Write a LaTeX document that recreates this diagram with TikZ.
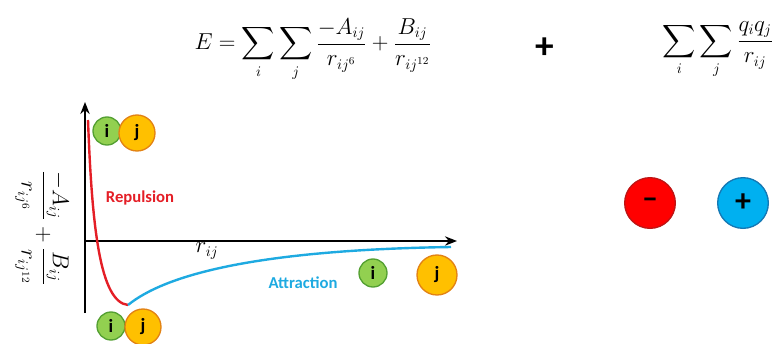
\documentclass[tikz,border=0pt]{standalone}
\usepackage{amsmath}
\usepackage{fontspec}
\newfontfamily\calfont{Carlito}
\usetikzlibrary{arrows.meta}

\definecolor{igreen}{RGB}{146,208,80}
\definecolor{igreenline}{RGB}{84,160,50}
\definecolor{jorange}{RGB}{255,192,0}
\definecolor{jorangeline}{RGB}{226,130,20}
\definecolor{repred}{RGB}{228,30,38}
\definecolor{attblue}{RGB}{30,170,225}
\definecolor{negred}{RGB}{255,0,0}
\definecolor{negredline}{RGB}{190,20,20}
\definecolor{posblue}{RGB}{0,176,240}
\definecolor{posblueline}{RGB}{20,120,180}

\tikzset{every picture/.style={line width=0.75pt}}
\tikzset{
  atom/.style={circle, draw, line width=1pt, inner sep=0pt, font=\calfont\bfseries\fontsize{14}{16}\selectfont},
  iatom/.style={atom, fill=igreen, draw=igreenline, minimum size=21pt},
  jatom/.style={atom, fill=jorange, draw=jorangeline, minimum size=27pt},
  charge/.style={circle, draw, line width=1pt, inner sep=0pt, minimum size=38pt, font=\calfont\bfseries\fontsize{24}{26}\selectfont},
  formula/.style={inner sep=0.75pt, font=\fontsize{16}{19}\selectfont},
  curvelabel/.style={inner sep=0.75pt, font=\calfont\bfseries\fontsize{12.5}{14}\selectfont}
}

\begin{document}
\begin{tikzpicture}[x=0.75pt,y=0.75pt,yscale=-1,xscale=1]
\useasboundingbox (0,0) rectangle (775,343);

% axes
\coordinate (origin) at (85,241);
\coordinate (yend) at (85,102);
\coordinate (ybottom) at (85,313);
\coordinate (xend) at (457,241);
\draw [line width=2pt, -{Stealth[length=9pt,width=7pt]}] (ybottom) -- (yend);
\draw [line width=2pt, -{Stealth[length=9pt,width=7pt]}] (origin) -- (xend);

% potential curve
\coordinate (wellmin) at (128,305);
\draw [repred, line width=1.8pt] (88,120) .. controls (92,228) and (100,302) .. (wellmin);
\draw [attblue, line width=1.8pt] (wellmin) .. controls (165,275) and (255,250) .. (451,247);

% Text Node
\node [formula] (energy) at (313,50) {$\displaystyle E=\sum_i\sum_j\frac{-A_{ij}}{r_{ij^6}}+\frac{B_{ij}}{r_{ij^{12}}}$};
% Text Node
\node [inner sep=0.75pt, font=\calfont\bfseries\fontsize{28}{30}\selectfont] (plus) at (545,48) {+};
% Text Node
\node [formula] (coulomb) at (718,50) {$\displaystyle \sum_i\sum_j\frac{q_iq_j}{r_{ij}}$};
% Text Node
\node [formula, rotate=-90] (ylabel) at (42,228) {$\dfrac{-A_{ij}}{r_{ij^6}}+\dfrac{B_{ij}}{r_{ij^{12}}}$};
% Text Node
\node [formula] (rlabel) at (207,251) {$r_{ij}$};
% Text Node
\node [curvelabel, text=repred] (repulsion) at (140,198) {Repulsion};
% Text Node
\node [curvelabel, text=attblue] (attraction) at (303,283) {Attraction};

% atoms
\node [iatom] (itop) at (107,131) {i};
\node [jatom] (jtop) at (137,133) {j};
\node [iatom] (ibottom) at (111,326) {i};
\node [jatom] (jbottom) at (143,327) {j};
\node [iatom] (ifar) at (373,273) {i};
\node [jatom, minimum size=30pt] (jfar) at (437,275) {j};

% charges
\node [charge, fill=negred, draw=negredline] (neg) at (650,203) {\textendash};
\node [charge, fill=posblue, draw=posblueline] (pos) at (743,203) {+};

\end{tikzpicture}
\end{document}
